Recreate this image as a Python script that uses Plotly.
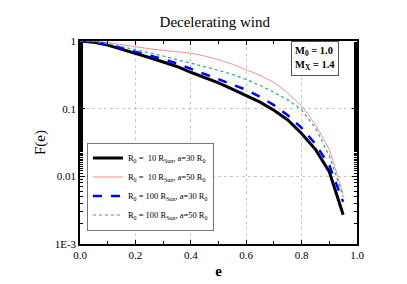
import plotly.graph_objects as go

e_vals = [0.0, 0.05, 0.1, 0.15, 0.2, 0.25, 0.3, 0.35, 0.4, 0.45,
          0.5, 0.55, 0.6, 0.65, 0.7, 0.75, 0.8, 0.85, 0.9, 0.95]

f_r10_a30 = [1.0, 0.96, 0.87, 0.76, 0.65, 0.57, 0.49, 0.42, 0.345, 0.29,
             0.24, 0.195, 0.158, 0.125, 0.095, 0.068, 0.043, 0.025, 0.0117, 0.0027]
f_r10_a50 = [1.0, 0.99, 0.95, 0.88, 0.815, 0.77, 0.73, 0.69, 0.66, 0.60,
             0.53, 0.455, 0.376, 0.31, 0.245, 0.17, 0.11, 0.058, 0.025, 0.0055]
f_r100_a30 = [1.0, 0.97, 0.89, 0.79, 0.70, 0.615, 0.54, 0.465, 0.39, 0.33,
              0.275, 0.23, 0.19, 0.15, 0.113, 0.08, 0.052, 0.030, 0.0145, 0.0042]
f_r100_a50 = [1.0, 0.98, 0.92, 0.83, 0.74, 0.67, 0.60, 0.53, 0.47, 0.42,
              0.37, 0.32, 0.27, 0.22, 0.175, 0.135, 0.096, 0.052, 0.020, 0.005]

series_names = [
    "R<sub>0</sub> =\u00a0 10 R<sub>Sun</sub>, a=30 R<sub>0</sub>",
    "R<sub>0</sub> =\u00a0 10 R<sub>Sun</sub>, a=50 R<sub>0</sub>",
    "R<sub>0</sub> = 100 R<sub>Sun</sub>, a=30 R<sub>0</sub>",
    "R<sub>0</sub> = 100 R<sub>Sun</sub>, a=50 R<sub>0</sub>",
]

x_tick_vals = [0.0, 0.2, 0.4, 0.6, 0.8, 1.0]
x_tick_text = ["0.0", "0.2", "0.4", "0.6", "0.8", "1.0"]
y_tick_vals = [1, 0.1, 0.01, 0.001]
y_tick_text = ["1", "0.1", "0.01", "1E-3"]

FONT = "Liberation Serif"

fig = go.Figure()
styles = [
    dict(color="black", width=3, dash="solid"),
    dict(color="#ff7070", width=0.8, dash="solid"),
    dict(color="#0000ff", width=2.5, dash="dash"),
    dict(color="#20a8a8", width=1.2, dash="dot"),
]
for name, ys, st in zip(series_names, [f_r10_a30, f_r10_a50, f_r100_a30, f_r100_a50], styles):
    fig.add_trace(go.Scatter(x=e_vals, y=ys, mode="lines", name=name, line=st))

fig.update_layout(
    width=407, height=284,
    margin=dict(l=72, r=58, t=33, b=48),
    paper_bgcolor="white", plot_bgcolor="white",
    font=dict(family=FONT, size=10, color="black"),
    title=dict(text="Decelerating wind", x=0.508, xanchor="center", y=0.952, yanchor="middle",
               font=dict(family=FONT, size=15, color="black")),
    showlegend=True,
    legend=dict(x=0.025, y=0.5, xanchor="left", yanchor="top",
                bgcolor="white", bordercolor="#777777", borderwidth=1,
                font=dict(family=FONT, size=8.5, color="black"),
                tracegroupgap=0, itemwidth=30),
    xaxis=dict(range=[0, 1], tickvals=x_tick_vals, ticktext=x_tick_text,
               ticks="inside", ticklen=4, tickwidth=1, tickcolor="black",
               showline=True, linecolor="black", linewidth=1.5, mirror="ticks",
               showgrid=True, gridcolor="#c8c8c8", griddash="dot", gridwidth=1,
               zeroline=False,
               minor=dict(dtick=0.1, ticks="inside", ticklen=3, tickcolor="black", showgrid=False),
               title=dict(text="<b>e</b>", font=dict(family=FONT, size=15), standoff=6),
               tickfont=dict(family=FONT, size=11)),
    yaxis=dict(type="log", range=[-3, 0], tickvals=y_tick_vals, ticktext=y_tick_text,
               ticks="inside", ticklen=5, tickwidth=1, tickcolor="black",
               showline=True, linecolor="black", linewidth=1.5, mirror="ticks",
               showgrid=True, gridcolor="#c8c8c8", griddash="dot", gridwidth=1,
               zeroline=False,
               minor=dict(ticks="inside", ticklen=3, tickcolor="black", showgrid=False),
               title=dict(text="F(e)", font=dict(family=FONT, size=15), standoff=5),
               tickfont=dict(family=FONT, size=11)),
)

fig.add_annotation(
    xref="paper", yref="paper", x=0.85, y=0.912, xanchor="center", yanchor="middle",
    text="<b>M<sub>0</sub> = 1.0</b><br><b>M<sub>X</sub> = 1.4</b>",
    showarrow=False, align="left", bordercolor="#555555", borderwidth=1, borderpad=3,
    bgcolor="white", font=dict(family=FONT, size=10.5, color="black"),
)

fig.write_html("out.html")
